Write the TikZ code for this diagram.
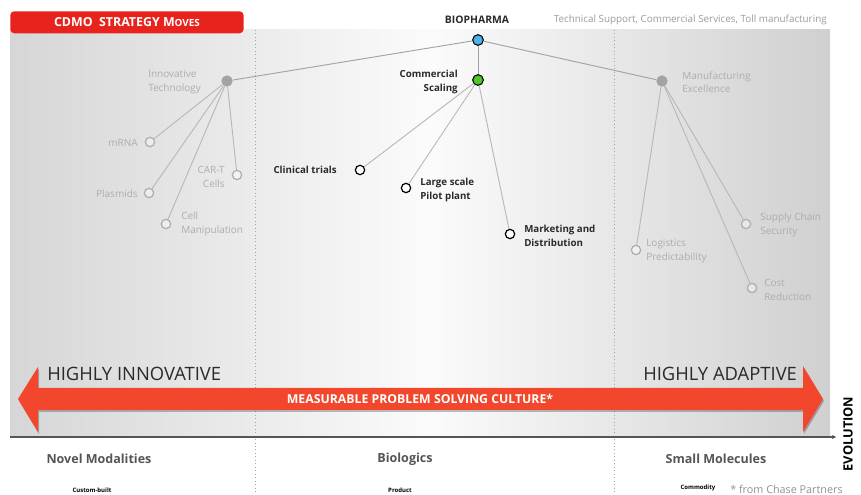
\documentclass[tikz,border=0pt]{standalone}
\usepackage{fontspec}
\setmainfont{Open Sans}
\usetikzlibrary{arrows.meta}
\definecolor{redbox}{HTML}{E8231D}
\definecolor{arrowred}{HTML}{F2462D}
\definecolor{lightlbl}{HTML}{ADADAD}
\definecolor{lightline}{HTML}{B8B8B8}
\definecolor{hubfill}{HTML}{A3A3A3}
\definecolor{darktxt}{HTML}{2A2A2A}
\definecolor{bluef}{HTML}{4DB2EA}
\definecolor{greenf}{HTML}{4CC82C}
\definecolor{panelL}{HTML}{D6D6D6}
\definecolor{panelM}{HTML}{FBFBFB}
\definecolor{panelR}{HTML}{D0D0D0}
\definecolor{axisc}{HTML}{555555}
\tikzset{
  lbl/.style={font=\fontsize{7.5}{10}\selectfont, text=lightlbl, inner sep=0pt},
  dlbl/.style={font=\bfseries\fontsize{7.3}{10}\selectfont, text=darktxt, inner sep=0pt},
  hubnode/.style={circle, fill=hubfill, minimum size=8.5pt, inner sep=0pt},
  leafgray/.style={circle, draw=lightlbl, line width=0.9pt, fill=white, fill opacity=0.4, minimum size=7pt, inner sep=0pt},
  leafdark/.style={circle, draw=black, line width=0.9pt, fill=white, minimum size=7pt, inner sep=0pt},
  conn/.style={draw=lightline, line width=0.7pt},
  cat/.style={font=\bfseries\fontsize{9.4}{10}\selectfont, text=axisc, inner sep=0pt},
  small/.style={font=\bfseries\fontsize{4.5}{5}\selectfont, text=black, inner sep=0pt},
  big/.style={font=\fontsize{13.8}{15}\selectfont, text=darktxt, inner sep=0pt}
}
\begin{document}
\begin{tikzpicture}[x=0.75pt,y=-0.75pt]
\useasboundingbox (0,0) rectangle (861,495);
\fill[white] (0,0) rectangle (861,495);
% panel
\shade[left color=panelL, right color=panelM] (10,30) rectangle (430.5,437);
\shade[left color=panelM, right color=panelR] (430,30) rectangle (830,437);
% dotted separators
\draw[dotted, line width=0.6pt, gray!70] (255,30) -- (255,495);
\draw[dotted, line width=0.6pt, gray!70] (614,30) -- (614,495);
% red title box
\node[fill=redbox, rounded corners=3pt, minimum width=175pt, minimum height=16.5pt, inner sep=0pt, anchor=north west, text=white, font=\bfseries\fontsize{9.3}{10}\selectfont] (title) at (10,11) {CDMO~~STRATEGY M{\fontsize{7.4}{8}\selectfont OVES}};
% top texts
\node[font=\bfseries\fontsize{7.8}{10}\selectfont, text=darktxt, inner sep=0pt] (bioL) at (477,20) {BIOPHARMA};
\node[font=\fontsize{7.4}{9}\selectfont, text=lightlbl!90!black, inner sep=0pt, anchor=east] (tech) at (827,20) {Technical Support, Commercial Services, Toll manufacturing};
% hubs
\node[circle, draw=black, line width=0.8pt, fill=bluef, minimum size=8pt, inner sep=0pt] (bio) at (478,40) {};
\node[circle, draw=black, line width=0.8pt, fill=greenf, minimum size=8pt, inner sep=0pt] (comm) at (478,80) {};
\node[hubnode] (inno) at (227,81) {};
\node[hubnode] (manu) at (662,81) {};
% hub labels
\node[dlbl, align=right, anchor=east] (commL) at (458,82) {Commercial\\Scaling};
\node[lbl, align=left, anchor=west] (innoL) at (148,82) {Innovative\\Technology};
\node[lbl, align=left, anchor=west] (manuL) at (682,82) {Manufacturing\\Excellence};
% left leaves
\node[leafgray] (mrna) at (150,142) {};
\node[leafgray] (plas) at (149,193) {};
\node[leafgray] (cell) at (166,224) {};
\node[leafgray] (cart) at (237,175) {};
\node[lbl, anchor=east] (mrnaL) at (138,143) {mRNA};
\node[lbl, anchor=east] (plasL) at (138,194) {Plasmids};
\node[lbl, align=left, anchor=west] (cellL) at (181,224) {Cell\\Manipulation};
\node[lbl, align=right, anchor=east] (cartL) at (225,177) {CAR-T\\Cells};
% middle leaves
\node[leafdark] (clin) at (360,170) {};
\node[leafdark] (pilot) at (406,188) {};
\node[leafdark] (mkt) at (510,234) {};
\node[dlbl, anchor=east] (clinL) at (337,170) {Clinical trials};
\node[dlbl, align=left, anchor=west] (pilotL) at (420,190) {Large scale\\Pilot plant};
\node[dlbl, align=left, anchor=west] (mktL) at (524,236) {Marketing and\\Distribution};
% right leaves
\node[leafgray] (logi) at (636,250) {};
\node[leafgray] (supp) at (746,224) {};
\node[leafgray] (cost) at (752,288) {};
\node[lbl, align=left, anchor=west] (logiL) at (646,251) {Logistics\\Predictability};
\node[lbl, align=left, anchor=west] (suppL) at (760,225) {Supply Chain\\Security};
\node[lbl, align=left, anchor=west] (costL) at (764,290) {Cost\\Reduction};
% connectors
\draw[conn, draw=hubfill] (bio) -- (inno);
\draw[conn, draw=hubfill] (bio) -- (manu);
\draw[conn, draw=hubfill] (bio) -- (comm);
\foreach \t in {mrna,plas,cell,cart} \draw[conn] (inno) -- (\t);
\foreach \t in {clin,pilot,mkt} \draw[conn] (comm) -- (\t);
\foreach \t in {logi,supp,cost} \draw[conn] (manu) -- (\t);
% axis
\coordinate (axL) at (10,437);
\coordinate (axR) at (836,437);
\draw[axisc, line width=1.5pt, -{Stealth[length=3pt,width=3pt]}] (axL) -- (axR);
\node[rotate=90, font=\bfseries\fontsize{9.6}{10}\selectfont, text=black, inner sep=0pt] (evo) at (848,434) {EVOLUTION};
% red double arrow
\fill[black, opacity=0.25] (19,401) -- (39,369) -- (39,390) -- (804,390) -- (804,368) -- (824,401) -- (804,434) -- (804,412) -- (39,412) -- (39,434) -- cycle;
\fill[arrowred] (18,399) -- (38,367) -- (38,388) -- (803,388) -- (803,366) -- (823,399) -- (803,432) -- (803,410) -- (38,410) -- (38,432) -- cycle;
\node[font=\bfseries\fontsize{9.2}{10}\selectfont, text=white, inner sep=0pt] (msc) at (420,399) {MEASURABLE PROBLEM SOLVING CULTURE*};
\node[big, anchor=west] (hinno) at (47,374) {HIGHLY INNOVATIVE};
\node[big, anchor=west] (hadap) at (643,374) {HIGHLY ADAPTIVE};
% bottom categories
\node[cat] (nov) at (99,459) {Novel Modalities};
\node[cat] (bio2) at (405,459) {Biologics};
\node[cat] (sm) at (716,459) {Small Molecules};
\node[small] (cb) at (92,490) {Custom-built};
\node[small] (prod) at (400,490) {Product};
\node[small] (comd) at (698,488) {Commodity};
\node[font=\fontsize{8.1}{10}\selectfont, text=lightlbl!85!black, inner sep=0pt, anchor=west] (chase) at (730,489) {* from Chase Partners};
\end{tikzpicture}
\end{document}
